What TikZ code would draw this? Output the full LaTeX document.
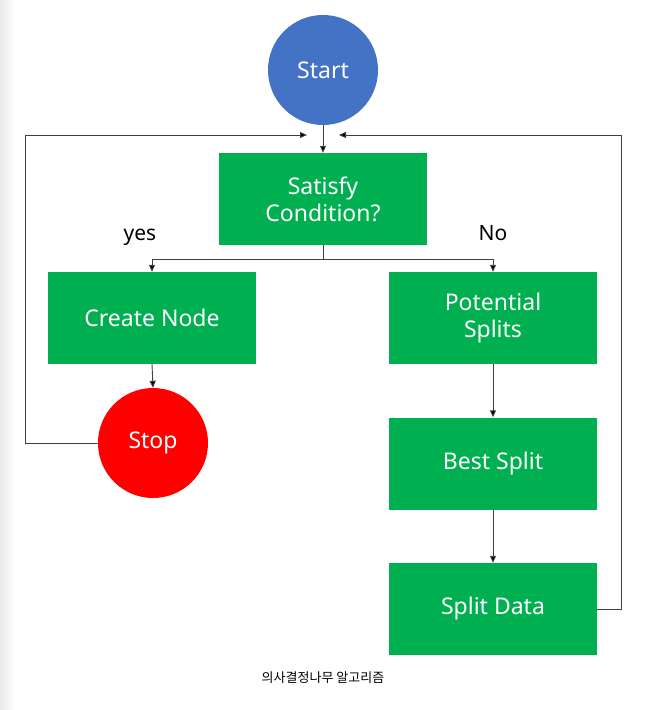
\documentclass[tikz,border=0pt]{standalone}
\usepackage{fontspec}
\setmainfont{Noto Sans}
\newfontfamily\krfont{Noto Sans CJK KR}
\usetikzlibrary{arrows.meta,positioning}
\definecolor{startblue}{HTML}{4472C4}
\definecolor{boxgreen}{HTML}{00B050}
\definecolor{linegray}{HTML}{404040}
\tikzset{
  stepbox/.style={fill=boxgreen, draw=none, minimum width=208pt, minimum height=92pt, inner sep=0pt, text=white, align=center, font=\fontsize{23}{27}\selectfont},
  roundnode/.style={circle, draw=none, minimum size=110pt, inner sep=0pt, text=white, font=\fontsize{23}{25}\selectfont},
  conn/.style={draw=linegray, line width=0.9pt},
  arr/.style={conn, -{Triangle[length=7pt,width=6pt,fill=black]}},
  lbl/.style={font=\fontsize{21}{25}\selectfont, text=black},
}
\begin{document}
\begin{tikzpicture}[x=1pt,y=-1pt]
\useasboundingbox (0,0) rectangle (669,710);
\fill[white] (0,0) rectangle (669,710);
\shade[left color=black!9, right color=white] (0,0) rectangle (14,710);
\node[roundnode, fill=startblue] (start) at (323,70) {Start};
\node[stepbox] (cond) at (323,199) {Satisfy\\Condition?};
\node[stepbox] (create) at (152,318) {Create Node};
\node[stepbox] (pot) at (493,318) {Potential\\Splits};
\node[roundnode, fill=red] (stop) at (153,443) {Stop};
\node[stepbox] (best) at (493,463.5) {Best Split};
\node[stepbox] (data) at (493,609) {Split Data};
\node[lbl] (yes) at (140,237) {yes};
\node[lbl] (no) at (493,233) {No};
\node[font=\krfont\fontsize{13}{15}\selectfont] (cap) at (323,678) {의사결정나무 알고리즘};
\coordinate (fork) at (323,259);
\coordinate (ljoin) at (307,135);
\coordinate (rjoin) at (339,135);
\coordinate (lcorner) at (25,135);
\coordinate (rcorner) at (621,135);
\draw[arr] (start.south) -- (cond.north);
\draw[conn] (cond.south) -- (fork);
\draw[arr] (fork) -| (create.north);
\draw[arr] (fork) -| (pot.north);
\draw[arr] (create.south) -- (stop.north);
\draw[arr] (pot.south) -- (best.north);
\draw[arr] (best.south) -- (data.north);
\draw[arr] (stop.west) -| (lcorner) -- (ljoin);
\draw[arr] (data.east) -| (rcorner) -- (rjoin);
\end{tikzpicture}
\end{document}
